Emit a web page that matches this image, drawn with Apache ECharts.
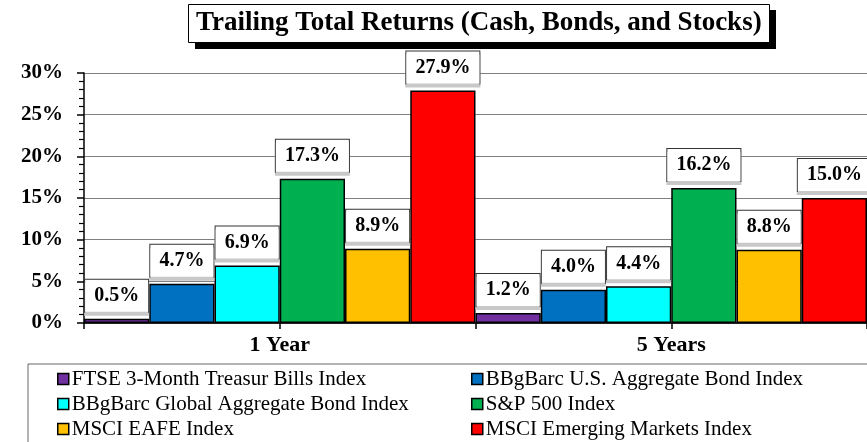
<!DOCTYPE html>
<html>
<head>
<meta charset="utf-8">
<script src="https://cdn.jsdelivr.net/npm/echarts@6/dist/echarts.min.js"></script>
<style>
  html, body { margin: 0; padding: 0; background: #fff; }
  #chart { width: 867px; height: 442px; }
</style>
</head>
<body>
<div id="chart"></div>
<script>
// data
const categories = ['1 Year', '5 Years']
const seriesNames = [
  'FTSE 3-Month Treasur Bills Index',
  'BBgBarc U.S. Aggregate Bond Index',
  'BBgBarc Global Aggregate Bond Index',
  'S&P 500 Index',
  'MSCI EAFE Index',
  'MSCI Emerging Markets Index'
]
const ftseBills = [0.5, 1.2]
const usAggBond = [4.7, 4.0]
const globalAggBond = [6.9, 4.4]
const sp500 = [17.3, 16.2]
const msciEafe = [8.9, 8.8]
const msciEm = [27.9, 15.0]
const seriesValues = [ftseBills, usAggBond, globalAggBond, sp500, msciEafe, msciEm]
const seriesColors = ['#7030A0', '#0070C0', '#00FFFF', '#00B050', '#FFC000', '#FF0000']

const serif = "'Liberation Serif', 'Times New Roman', serif"
let chart = echarts.init(document.getElementById('chart'))

const series = seriesNames.map((name, i) => ({
  name: name,
  type: 'bar',
  data: seriesValues[i],
  barGap: '0%',
  barCategoryGap: '0%',
  itemStyle: { color: seriesColors[i], borderColor: '#000', borderWidth: 1.5 },
  label: {
    show: true,
    position: 'top',
    distance: 7,
    formatter: p => p.value.toFixed(1) + '%',
    fontFamily: serif,
    fontWeight: 'bold',
    fontSize: 20,
    color: '#000',
    backgroundColor: '#fff',
    borderColor: '#333',
    borderWidth: 1,
    padding: [6, 9, 6, 9],
    shadowColor: '#c8c8c8',
    shadowOffsetY: 3
  }
}))

// legend split in two columns
const legendCommon = {
  orient: 'vertical',
  top: 368,
  height: 90,
  padding: 0,
  itemWidth: 11,
  itemHeight: 11,
  itemGap: 3,
  icon: 'rect',
  itemStyle: { borderColor: '#000', borderWidth: 1.5 },
  textStyle: { fontFamily: serif, fontSize: 21, color: '#000', lineHeight: 22, padding: [0, 0, 0, -2] }
}

const option = {
  animation: false,
  color: seriesColors,
  title: {
    text: 'Trailing Total Returns (Cash, Bonds, and Stocks)',
    left: 188,
    top: 4,
    padding: [6, 8, 6, 8],
    backgroundColor: '#fff',
    borderColor: '#000',
    borderWidth: 1,
    textStyle: { fontFamily: serif, fontWeight: 'bold', fontSize: 27, color: '#000' }
  },
  graphic: [
    {
      // title drop shadow
      type: 'rect',
      z: 0,
      shape: { x: 195, y: 10, width: 581, height: 39 },
      style: { fill: '#000' }
    },
    {
      // legend frame
      type: 'rect',
      z: -1,
      shape: { x: 28, y: 364, width: 860, height: 90 },
      style: { fill: '#fff', stroke: '#666', lineWidth: 1 }
    }
  ],
  legend: [
    Object.assign({}, legendCommon, { left: 57, data: [seriesNames[0], seriesNames[2], seriesNames[4]] }),
    Object.assign({}, legendCommon, { left: 471, data: [seriesNames[1], seriesNames[3], seriesNames[5]] })
  ],
  grid: { left: 84, right: -1, top: 73, bottom: 119 },
  xAxis: [
    {
      type: 'category',
      data: categories,
      axisLine: { lineStyle: { color: '#000', width: 1.5 } },
      axisTick: { show: false },
      axisLabel: { fontFamily: serif, fontWeight: 'bold', fontSize: 22, color: '#000', margin: 11 }
    },
    {
      // ticks at category boundaries and centers
      type: 'category',
      data: ['a', 'b', 'c', 'd'],
      position: 'bottom',
      axisLine: { show: false },
      axisLabel: { show: false },
      axisTick: { show: true, length: 6, lineStyle: { color: '#000', width: 1.5 } }
    }
  ],
  yAxis: {
    type: 'value',
    min: 0,
    max: 30,
    interval: 5,
    axisLine: { show: true, lineStyle: { color: '#000', width: 1.5 } },
    axisTick: { show: true, length: 7, lineStyle: { color: '#000', width: 1.5 } },
    minorTick: { show: true, splitNumber: 5, length: 5, lineStyle: { color: '#000', width: 1.2 } },
    splitLine: { show: true, lineStyle: { color: '#808080', width: 1 } },
    axisLabel: {
      formatter: '{value}%',
      fontFamily: serif,
      fontWeight: 'bold',
      fontSize: 21,
      color: '#000',
      margin: 21
    }
  },
  series: series
}

chart.setOption(option)
</script>
</body>
</html>
